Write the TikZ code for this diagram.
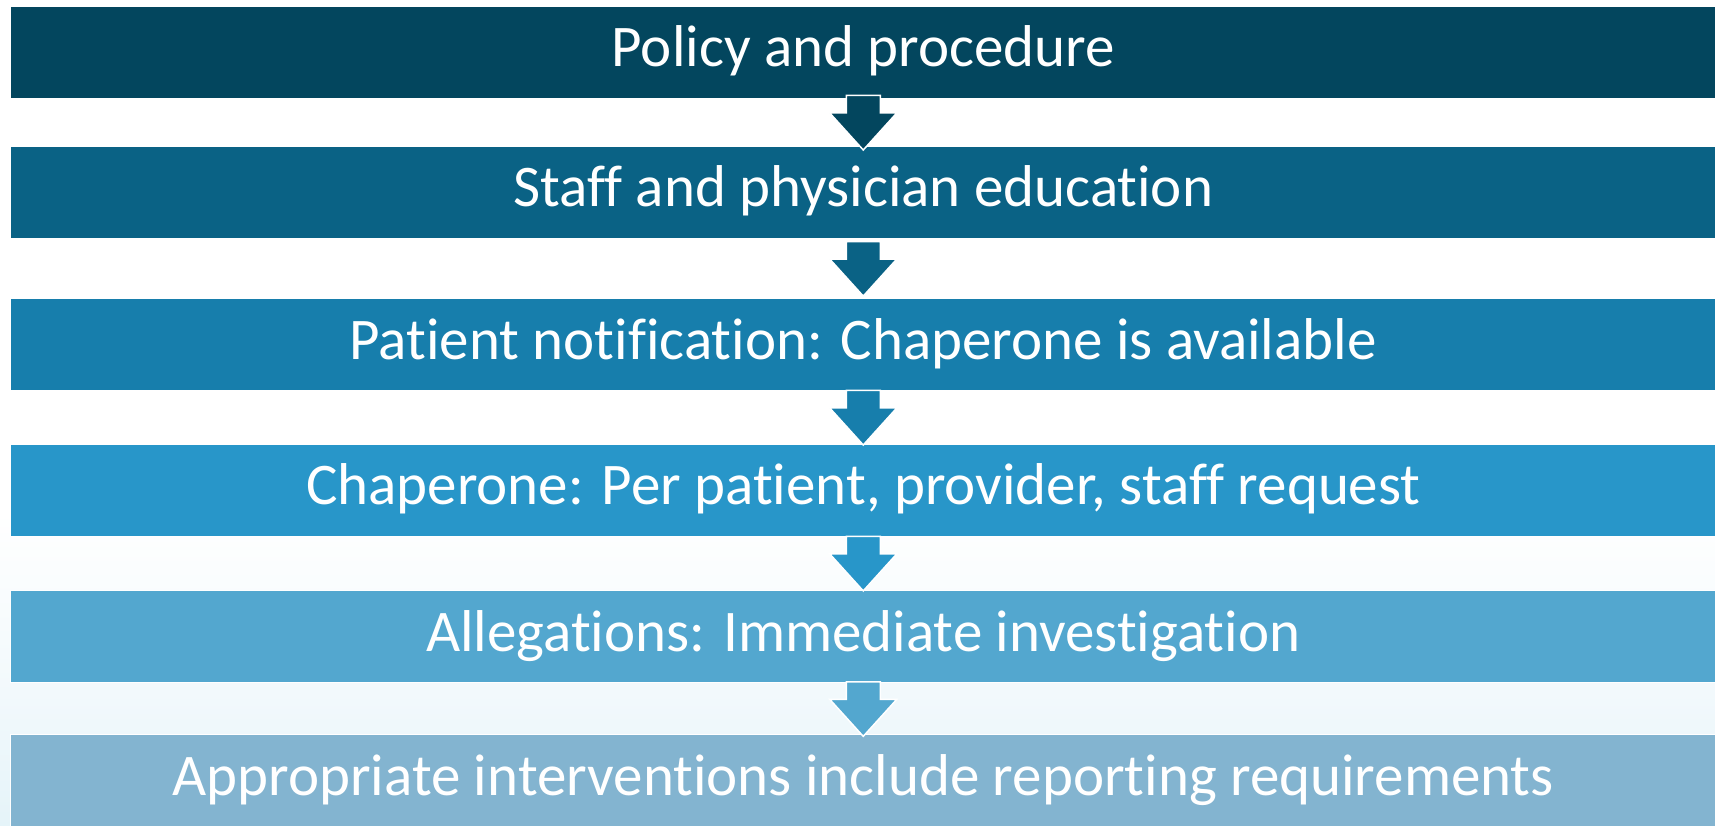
\documentclass[tikz,border=0pt]{standalone}
\usepackage{fontspec}
\setmainfont{Carlito}[Ligatures={NoCommon}]
\usetikzlibrary{calc}

% band colours, darkest at the top
\definecolor{bandA}{HTML}{03465E}
\definecolor{bandB}{HTML}{0A6285}
\definecolor{bandC}{HTML}{177EAC}
\definecolor{bandD}{HTML}{2896C9}
\definecolor{bandE}{HTML}{53A7CF}
\definecolor{bandF}{HTML}{83B4D0}
\definecolor{bgbot}{HTML}{C4E9F2}
\definecolor{bgmid}{HTML}{DAEFF6}
\definecolor{bgpale}{HTML}{F2F9FC}

% page background: white above, pale cyan towards the bottom
\pgfdeclareverticalshading{pagebg}{100bp}{%
  color(0bp)=(bgbot); color(18bp)=(bgmid); color(33bp)=(bgpale);
  color(44bp)=(white); color(100bp)=(white)}

\tikzset{
  band/.style={rectangle, draw=white, line width=1pt, inner sep=0pt,
    minimum width=1705.5pt, minimum height=92.5pt,
    text=white, font=\fontsize{59}{63}\selectfont,
    text height=41pt, text depth=12pt},
  downarrow/.style={draw=white, line width=1.5pt, line join=miter}
}

% block arrow centred in the gap between two bands
\newcommand{\gaparrow}[3]{%
  \draw[downarrow, fill=#3] ($(#1.south)!0.5!(#2.north)$) ++(-17,27)
    -- ++(34,0) -- ++(0,-17.5) -- ++(16.5,0) -- ++(-33.5,-37)
    -- ++(-33.5,37) -- ++(16.5,0) -- cycle;}

\begin{document}
\begin{tikzpicture}[x=1pt, y=1pt]
  \useasboundingbox (0,0) rectangle (1715,825);
  \shade[shading=pagebg] (0,0) rectangle (1715,825);

  \node[band, fill=bandA] (b1) at (863.25,772.5) {Policy and procedure};
  \node[band, fill=bandB] (b2) at (863.25,632.5) {Staff and physician education};
  \node[band, fill=bandC] (b3) at (863.25,480.3) {Patient notification: Chaperone is available};
  \node[band, fill=bandD] (b4) at (863.25,334.7) {Chaperone: Per patient, provider, staff request};
  \node[band, fill=bandE] (b5) at (863.25,188.5) {Allegations: Immediate investigation};
  \node[band, fill=bandF] (b6) at (863.25,43.8) {Appropriate interventions include reporting requirements};

  \gaparrow{b1}{b2}{bandA}
  \gaparrow{b2}{b3}{bandB}
  \gaparrow{b3}{b4}{bandC}
  \gaparrow{b4}{b5}{bandD}
  \gaparrow{b5}{b6}{bandE}
\end{tikzpicture}
\end{document}
